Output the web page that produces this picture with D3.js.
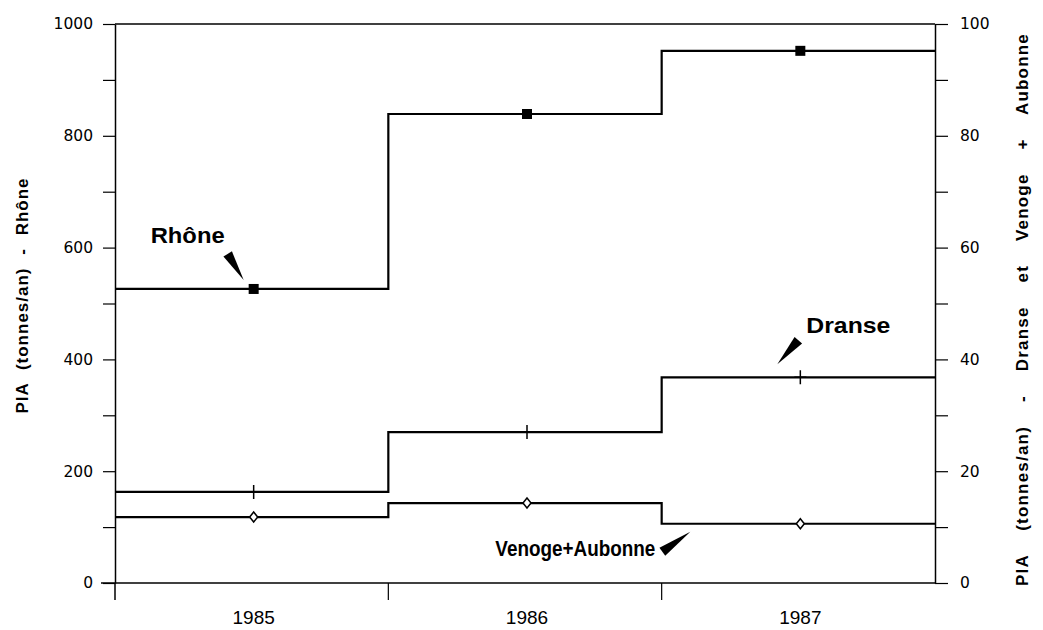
<!DOCTYPE html>
<html>
<head>
<meta charset="utf-8">
<script src="https://cdn.jsdelivr.net/npm/d3@7"></script>
<style>
  body { margin: 0; background: #fff; }
  svg { display: block; }
</style>
</head>
<body>
<div id="app"></div>
<script>
var svgWidth = 1043, svgHeight = 630;

// data
var years = [1985, 1986, 1987];
var rhone = [526, 839, 952];          // left axis, tonnes/an
var dranse = [16.3, 27.0, 36.8];      // right axis
var venoge = [11.8, 14.3, 10.6];      // right axis
var leftTicks = [0, 200, 400, 600, 800, 1000];
var rightTicks = [0, 20, 40, 60, 80, 100];

var margin = { top: 24, right: 108, bottom: 47, left: 115 };
var plotRight = svgWidth - margin.right;
var plotBottom = svgHeight - margin.bottom;
var sansFont = "'Liberation Sans', Arial, sans-serif";

var svg = d3.select('#app')
            .append("svg")
            .attr("width", svgWidth)
            .attr("height", svgHeight);

var x = d3.scaleLinear()
        .domain([years[0] - 0.5, years[years.length - 1] + 0.5])
        .range([margin.left, plotRight]);
var yL = d3.scaleLinear().domain([0, 1000]).range([plotBottom, margin.top]);
var yR = d3.scaleLinear().domain([0, 100]).range([plotBottom, margin.top]);

// AXES
var leftAxis = d3.axisLeft(yL)
        .tickValues(d3.range(0, 1001, 100))
        .tickFormat(function(d){ return leftTicks.indexOf(d) >= 0 ? d : ""; })
        .tickSize(12).tickPadding(10).tickSizeOuter(0);
var gL = svg.append("g").attr("transform", "translate(" + margin.left + ",0)").call(leftAxis);

var rightAxis = d3.axisRight(yR)
        .tickValues(d3.range(0, 101, 10))
        .tickFormat(function(d){ return rightTicks.indexOf(d) >= 0 ? d : ""; })
        .tickSize(13).tickPadding(12).tickSizeOuter(0);
var gR = svg.append("g").attr("transform", "translate(" + plotRight + ",0)").call(rightAxis);

[gL, gR].forEach(function(g){
    g.attr("font-family", "'DejaVu Sans', sans-serif").attr("font-size", 15.5);
    g.select(".domain").attr("stroke", "#000").attr("stroke-width", 1.5);
    g.selectAll(".tick line").attr("stroke", "#000").attr("stroke-width", 1.2);
    g.selectAll(".tick text").attr("fill", "#000");
});

// extend left axis below the baseline, baseline to the left
svg.append("line").attr("x1", margin.left).attr("x2", margin.left)
    .attr("y1", plotBottom).attr("y2", plotBottom + 17)
    .attr("stroke", "#000").attr("stroke-width", 1.5);
svg.append("line").attr("x1", margin.left - 14).attr("x2", plotRight)
    .attr("y1", plotBottom).attr("y2", plotBottom)
    .attr("stroke", "#000").attr("stroke-width", 1.5);
svg.append("line").attr("x1", margin.left).attr("x2", plotRight)
    .attr("y1", margin.top).attr("y2", margin.top)
    .attr("stroke", "#000").attr("stroke-width", 1.5);

// year boundaries ticks
svg.selectAll(".yearTick")
    .data(years.slice(1))
    .enter().append("line")
    .attr("class", "yearTick")
    .attr("x1", function(d){ return x(d - 0.5); })
    .attr("x2", function(d){ return x(d - 0.5); })
    .attr("y1", plotBottom).attr("y2", plotBottom + 17)
    .attr("stroke", "#000").attr("stroke-width", 1.2);

svg.selectAll(".yearLabel")
    .data(years)
    .enter().append("text")
    .attr("class", "yearLabel")
    .attr("x", function(d){ return x(d) + 2; })
    .attr("y", plotBottom + 41)
    .attr("text-anchor", "middle")
    .attr("font-family", sansFont)
    .attr("font-size", 19)
    .text(function(d){ return d; });

// axis titles
svg.append("text")
    .attr("transform", "translate(28," + ((margin.top + plotBottom) / 2 - 8) + ") rotate(-90)")
    .attr("text-anchor", "middle")
    .attr("font-family", sansFont).attr("font-weight", "bold").attr("font-size", 17)
    .style("letter-spacing", "1px").style("word-spacing", "7px")
    .text("PIA (tonnes/an) - Rhône");
svg.append("text")
    .attr("transform", "translate(1028," + ((margin.top + plotBottom) / 2 + 6) + ") rotate(-90)")
    .attr("text-anchor", "middle")
    .attr("font-family", sansFont).attr("font-weight", "bold").attr("font-size", 17)
    .style("letter-spacing", "1.2px").style("word-spacing", "18px")
    .text("PIA (tonnes/an) - Dranse et Venoge + Aubonne");

// STEP LINES
function stepData(vals) {
    var pts = vals.map(function(v, i){ return { x: years[i] - 0.5, v: v }; });
    pts.push({ x: years[years.length - 1] + 0.5, v: vals[vals.length - 1] });
    return pts;
}
var series = [
    { name: "Rhône", vals: rhone, y: yL },
    { name: "Dranse", vals: dranse, y: yR },
    { name: "Venoge+Aubonne", vals: venoge, y: yR }
];
series.forEach(function(s){
    var line = d3.line()
        .x(function(d){ return x(d.x); })
        .y(function(d){ return s.y(d.v); })
        .curve(d3.curveStepAfter);
    svg.append("path")
        .datum(stepData(s.vals))
        .attr("d", line)
        .attr("fill", "none")
        .attr("stroke", "#000")
        .attr("stroke-width", 2.2);
});

// MARKERS
svg.selectAll(".sq").data(rhone).enter().append("rect")
    .attr("x", function(d, i){ return x(years[i]) + 2 - 5; })
    .attr("y", function(d){ return yL(d) - 5; })
    .attr("width", 10).attr("height", 10).attr("fill", "#000");

svg.selectAll(".plus").data(dranse).enter().append("path")
    .attr("transform", function(d, i){ return "translate(" + (x(years[i]) + 2) + "," + yR(d) + ")"; })
    .attr("d", "M-6,0H6M0,-7V7")
    .attr("stroke", "#000").attr("stroke-width", 1.5).attr("fill", "none");

svg.selectAll(".dia").data(venoge).enter().append("path")
    .attr("transform", function(d, i){ return "translate(" + (x(years[i]) + 2) + "," + yR(d) + ")"; })
    .attr("d", "M0,-5L4,0L0,5L-4,0Z")
    .attr("stroke", "#000").attr("stroke-width", 1.5).attr("fill", "#fff");

// ANNOTATIONS (text + wedge pointer), anchored on a data point
var annots = [
    { text: "Rhône", yr: 1985, v: rhone[0], sc: yL, tx: -101, ty: -46, len: 74, base: [-24, -35], tip: [-8, -9] },
    { text: "Dranse", yr: 1987, v: dranse[2], sc: yR, tx: 8, ty: -44, len: 84, base: [0, -37], tip: [-21, -13] },
    { text: "Venoge+Aubonne", yr: 1987, v: venoge[2], sc: yR, tx: -303, ty: 32, len: 160, base: [-136, 28], tip: [-108, 8] }
];
annots.forEach(function(a){
    var px = x(a.yr), py = a.sc(a.v);
    svg.append("text")
        .attr("x", px + a.tx).attr("y", py + a.ty)
        .attr("font-family", sansFont).attr("font-weight", "bold").attr("font-size", 22)
        .attr("textLength", a.len).attr("lengthAdjust", "spacingAndGlyphs")
        .text(a.text);
    var bx = px + a.base[0], by = py + a.base[1];
    var tx = px + a.tip[0], ty = py + a.tip[1];
    var dx = tx - bx, dy = ty - by, len = Math.sqrt(dx * dx + dy * dy);
    var nx = -dy / len * 5, ny = dx / len * 5;
    svg.append("path")
        .attr("d", "M" + (bx + nx) + "," + (by + ny) + "L" + tx + "," + ty + "L" + (bx - nx) + "," + (by - ny) + "Z")
        .attr("fill", "#000");
});
</script>
</body>
</html>
